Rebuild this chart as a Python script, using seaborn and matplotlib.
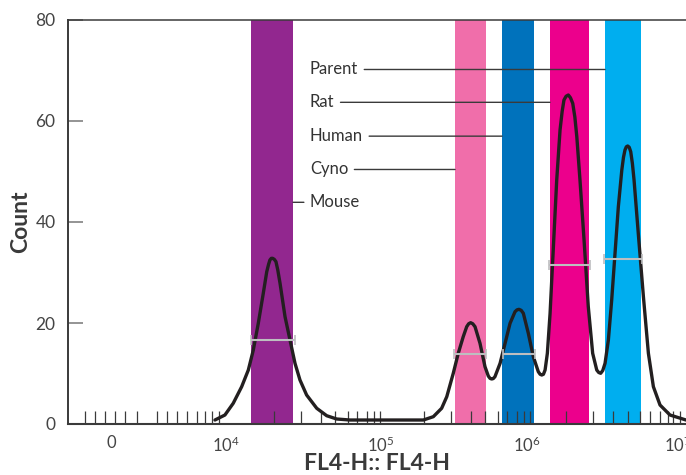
import matplotlib
matplotlib.use("Agg")
import matplotlib.pyplot as plt
import seaborn as sns
import pandas as pd

# ---------------- data (x in decade units = log10 of FL4-H) ----------------
curve_x = [3.927, 3.993, 4.048, 4.104, 4.148, 4.181, 4.214, 4.247, 4.270, 4.282, 4.291, 4.300,
           4.309, 4.320, 4.331, 4.343, 4.358, 4.391, 4.424, 4.457, 4.490, 4.534, 4.601, 4.667,
           4.733, 4.821,
           5.307, 5.373, 5.428, 5.462, 5.505, 5.538, 5.571, 5.594, 5.607, 5.620, 5.634, 5.649,
           5.682, 5.715, 5.737, 5.748, 5.759, 5.770, 5.781, 5.815, 5.848, 5.881, 5.914, 5.927,
           5.940, 5.955, 5.969, 6.002, 6.035, 6.068, 6.080, 6.091, 6.102, 6.113, 6.128, 6.146,
           6.168, 6.190, 6.212, 6.226, 6.238, 6.252, 6.267, 6.281, 6.296, 6.310, 6.323, 6.344,
           6.371, 6.399, 6.428, 6.455, 6.468, 6.481, 6.495, 6.510, 6.532, 6.554, 6.576, 6.598,
           6.621, 6.632, 6.642, 6.651, 6.660, 6.670, 6.680, 6.691, 6.702, 6.730, 6.764, 6.797,
           6.830, 6.874, 6.940, 7.046]
curve_count = [0.79, 1.78, 4.10, 7.39, 10.69, 14.65, 19.94, 25.88, 30.16, 31.6, 32.48, 32.8,
               32.81, 32.6, 32.14, 30.5, 27.86, 21.25, 16.63, 12.02, 8.71, 5.74, 3.11, 1.64,
               0.99, 0.79,
               0.79, 1.45, 3.11, 5.41, 10.04, 14.0, 17.29, 19.27, 19.85, 20.06, 19.85, 19.27,
               15.98, 11.35, 9.50, 9.05, 8.91, 9.0, 9.37, 12.02, 15.98, 19.94, 22.24, 22.6,
               22.71, 22.5, 21.92, 17.96, 13.33, 10.36, 9.85, 9.70, 9.85, 10.69, 14.0, 21.92,
               35.11, 48.32, 58.22, 61.9, 64.16, 64.9, 65.15, 64.6, 63.50, 60.8, 56.89, 48.32,
               36.44, 23.23, 14.0, 10.69, 10.2, 10.04, 10.6, 12.02, 16.63, 24.55, 33.8, 43.03,
               50.30, 52.8, 54.26, 54.9, 55.05, 54.8, 53.92, 51.6, 48.32, 37.76, 25.21, 14.0,
               7.39, 3.76, 1.78, 0.79]

band_names = ["Mouse", "Cyno", "Human", "Rat", "Parent"]
band_lo = [4.166, 5.517, 5.828, 6.146, 6.510]
band_hi = [4.444, 5.722, 6.040, 6.404, 6.748]
band_colors = ["#92278F", "#F06EAA", "#0072BC", "#EC008C", "#00AEEF"]

gate_lo = [4.166, 5.510, 5.832, 6.141, 6.505]
gate_hi = [4.454, 5.722, 6.046, 6.411, 6.753]
gate_count = [16.6, 13.8, 13.8, 31.5, 32.6]

label_count = [43.9, 50.4, 57.0, 63.7, 70.2]
label_x = 4.556

xtick_pos = [3.238, 4.0, 5.026, 5.993, 6.993]
xtick_labels = ["0", r"$\mathregular{10^4}$", r"$\mathregular{10^5}$",
                r"$\mathregular{10^6}$", r"$\mathregular{10^7}$"]
xminor_pos = [3.066, 3.132, 3.199, 3.265, 3.331, 3.411, 3.543, 3.609, 3.675, 3.742,
              3.808, 3.864, 3.907, 3.954, 4.000, 4.315, 4.497, 4.627, 4.722, 4.806,
              4.870, 4.932, 4.980, 5.023, 5.311, 5.488, 5.621, 5.715, 5.799, 5.859,
              5.925, 5.975, 6.013, 6.252, 6.432, 6.565, 6.664, 6.742, 6.808, 6.874,
              6.929, 6.962, 7.007]
yticks = [0, 20, 40, 60, 80]

# ---------------- style ----------------
sns.set_theme(style="white")
plt.rcParams["font.family"] = ["Lato", "DejaVu Sans"]
plt.rcParams["mathtext.fontset"] = "custom"
plt.rcParams["mathtext.rm"] = "Lato"

fig = plt.figure(figsize=(6.86, 4.75), dpi=100)
ax = fig.add_axes([68 / 686, 51 / 475, 618 / 686, 404 / 475])
ax.set_axisbelow("line")

# bands
for lo, hi, c in zip(band_lo, band_hi, band_colors):
    ax.axvspan(lo, hi, color=c, lw=0, zorder=1)

# curve
df = pd.DataFrame({"fl4": curve_x, "count": curve_count})
sns.lineplot(data=df, x="fl4", y="count", ax=ax, color="#231F20", lw=2.4,
             estimator=None, zorder=3)
for ln in ax.get_lines():
    ln.set_solid_joinstyle("round")
    ln.set_solid_capstyle("round")

# gates
for lo, hi, yv in zip(gate_lo, gate_hi, gate_count):
    ax.errorbar((lo + hi) / 2, yv, xerr=(hi - lo) / 2, fmt="none",
                ecolor="#BDBEC0", elinewidth=1.5, capsize=3.6, capthick=1.2, zorder=4)

# labels with leader lines
for name, lo, hi, yv in zip(band_names, band_lo, band_hi, label_count):
    edge = hi if name == "Mouse" else lo
    ax.annotate(name, xy=(edge, yv), xytext=(label_x, yv), ha="left", va="center",
                fontsize=12, color="#333333",
                arrowprops=dict(arrowstyle="-", color="#3a3a3a", lw=1.0,
                                shrinkA=2, shrinkB=0))

ax.set_xlim(2.954, 7.046)
ax.set_ylim(0, 80)

ax.set_xticks(xtick_pos)
ax.set_xticklabels(xtick_labels)
ax.set_xticks(xminor_pos, minor=True)
ax.set_yticks(yticks)
ax.set_yticklabels([str(v) for v in yticks])

ax.tick_params(axis="x", which="major", length=0, pad=8, labelsize=12, labelcolor="#444444")
ax.tick_params(axis="x", which="minor", direction="in", length=9.5, width=0.9,
               color="#3a3a3a", bottom=True)
ax.tick_params(axis="y", which="major", direction="in", length=11, width=1.1,
               color="#777777", pad=9, labelsize=12.5, labelcolor="#444444", left=True)

for side in ["left", "bottom", "top"]:
    ax.spines[side].set_visible(True)
    ax.spines[side].set_color("#3a3a3a")
ax.spines["left"].set_linewidth(1.4)
ax.spines["bottom"].set_linewidth(1.5)
ax.spines["top"].set_linewidth(1.1)
ax.spines["right"].set_visible(False)

ax.set_xlabel("FL4-H:: FL4-H", fontsize=16.5, color="#3a3a3a", labelpad=-1,
              fontweight="bold")
ax.set_ylabel("Count", fontsize=16.5, color="#3a3a3a", labelpad=3, fontweight="bold")

fig.savefig("out.png", dpi=100)
